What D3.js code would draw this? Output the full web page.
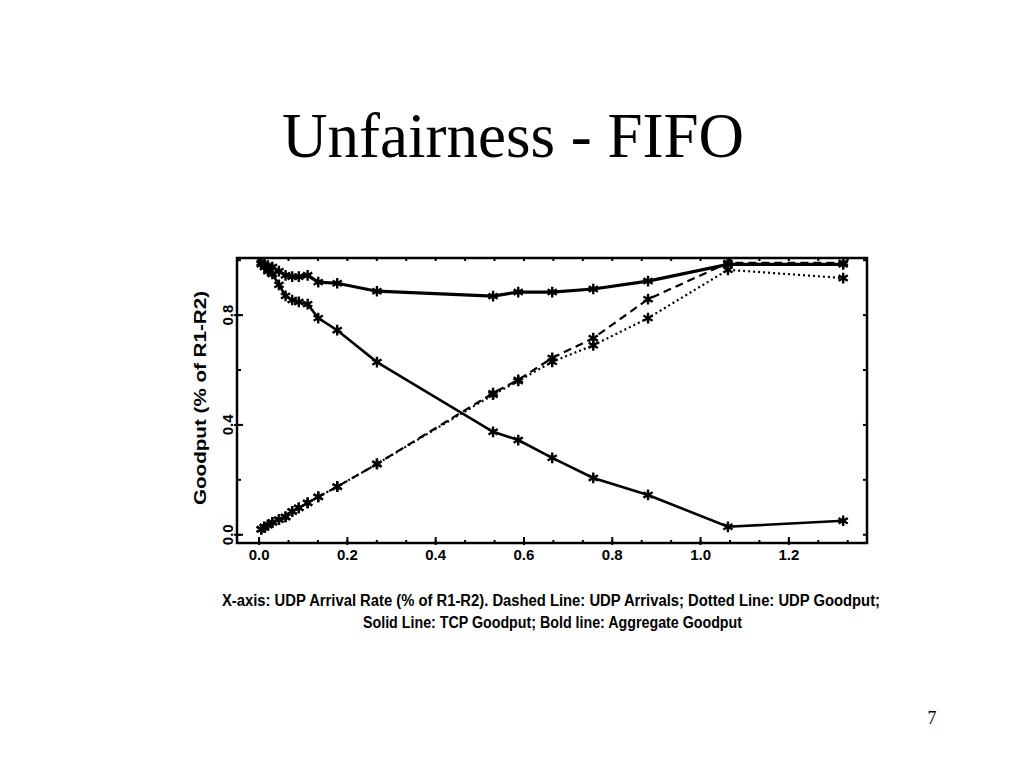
<!DOCTYPE html>
<html><head><meta charset="utf-8">
<script src="https://cdn.jsdelivr.net/npm/d3@7"></script>
<style>body{margin:0;background:#fff}svg{display:block}</style>
</head><body>
<svg id="c" width="1024" height="768"></svg>
<script>
const title = "Unfairness - FIFO";
const pageNum = "7";
const yLabel = "Goodput (% of R1-R2)";
const caption1 = "X-axis: UDP Arrival Rate (% of R1-R2).  Dashed Line: UDP Arrivals; Dotted Line: UDP Goodput;";
const caption2 = "Solid Line: TCP Goodput; Bold line: Aggregate Goodput";
const xTicks = [0.0, 0.2, 0.4, 0.6, 0.8, 1.0, 1.2];
const yTicks = [0.0, 0.4, 0.8];
const udpRate   = [0.005,0.012,0.02,0.03,0.045,0.06,0.075,0.09,0.11,0.134,0.177,0.267,0.53,0.587,0.664,0.757,0.881,1.062,1.323];
const tcpGood   = [0.985,0.975,0.96,0.95,0.91,0.87,0.855,0.848,0.84,0.789,0.745,0.629,0.375,0.345,0.28,0.207,0.145,0.029,0.051];
const udpArr    = [0.02,0.028,0.035,0.045,0.055,0.065,0.085,0.098,0.116,0.138,0.175,0.258,0.516,0.564,0.644,0.716,0.858,0.99,0.99];
const udpGood   = [0.02,0.028,0.035,0.045,0.055,0.065,0.085,0.098,0.116,0.138,0.175,0.258,0.51,0.56,0.63,0.69,0.789,0.965,0.935];
const aggGood   = [0.99,0.985,0.98,0.975,0.96,0.945,0.94,0.94,0.945,0.92,0.916,0.887,0.869,0.884,0.884,0.895,0.924,0.985,0.985];

const svg = d3.select("#c");
const x = d3.scaleLinear().domain([-0.05, 1.377]).range([237, 867]);
const y = d3.scaleLinear().domain([-0.03, 1.008]).range([543, 258]);
const sans = "'Liberation Sans',Arial,sans-serif";

svg.append("text").attr("x", 513).attr("y", 157).attr("text-anchor","middle")
  .style("font-family","'Liberation Serif','Times New Roman',serif").style("font-size","63px")
  .text(title);
svg.append("text").attr("x", 932).attr("y", 724).attr("text-anchor","middle")
  .style("font-family","'Liberation Serif',serif").style("font-size","18px").text(pageNum);

// frame
svg.append("rect").attr("x", x.range()[0]).attr("y", y.range()[1])
  .attr("width", x.range()[1]-x.range()[0]).attr("height", y.range()[0]-y.range()[1])
  .attr("fill","none").attr("stroke","#000").attr("stroke-width",2.5);

const g = svg.append("g");
const xMinor = d3.range(0, 1.38, 0.2/3);
xMinor.forEach(v => {
  g.append("line").attr("x1",x(v)).attr("x2",x(v)).attr("y1",y.range()[0]).attr("y2",y.range()[0]-3).attr("stroke","#000").attr("stroke-width",2);
  g.append("line").attr("x1",x(v)).attr("x2",x(v)).attr("y1",y.range()[1]).attr("y2",y.range()[1]+3).attr("stroke","#000").attr("stroke-width",2);
});
xTicks.forEach(v => {
  g.append("line").attr("x1",x(v)).attr("x2",x(v)).attr("y1",y.range()[0]+2).attr("y2",y.range()[0]-6).attr("stroke","#000").attr("stroke-width",2);
  g.append("text").attr("x",x(v)).attr("y",560).attr("text-anchor","middle")
    .style("font-family",sans).style("font-weight","bold").style("font-size","15px")
    .text(v.toFixed(1));
});
d3.range(0, 1.01, 0.2).forEach(v => {
  g.append("line").attr("x1",x.range()[0]).attr("x2",x.range()[0]+4).attr("y1",y(v)).attr("y2",y(v)).attr("stroke","#000").attr("stroke-width",2);
  g.append("line").attr("x1",x.range()[1]).attr("x2",x.range()[1]-4).attr("y1",y(v)).attr("y2",y(v)).attr("stroke","#000").attr("stroke-width",2);
});
yTicks.forEach(v => {
  g.append("line").attr("x1",x.range()[0]-3).attr("x2",x.range()[0]+6).attr("y1",y(v)).attr("y2",y(v)).attr("stroke","#000").attr("stroke-width",2);
  g.append("text").attr("transform",`translate(233,${y(v)}) rotate(-90)`).attr("text-anchor","middle")
    .style("font-family",sans).style("font-weight","bold").style("font-size","15px")
    .text(v.toFixed(1));
});
svg.append("text").attr("transform","translate(206,398) rotate(-90)").attr("text-anchor","middle")
  .attr("textLength",214).attr("lengthAdjust","spacingAndGlyphs")
  .style("font-family",sans).style("font-weight","bold").style("font-size","16px")
  .text(yLabel);

const series = [
  {vals: udpArr, dash: "8,5", w: 2.2},
  {vals: udpGood, dash: "2,3", w: 2.2},
  {vals: tcpGood, dash: null, w: 2.6},
  {vals: aggGood, dash: null, w: 3.2}
];
const line = d3.line().x(d => x(d[0])).y(d => y(d[1]));
const sym = d3.symbol().type(d3.symbolAsterisk).size(80);
series.forEach(s => {
  const pts = udpRate.map((r,i) => [r, s.vals[i]]);
  svg.append("path").datum(pts).attr("d", line).attr("fill","none").attr("stroke","#000")
    .attr("stroke-width", s.w).attr("stroke-dasharray", s.dash);
  svg.append("g").selectAll("path").data(pts).join("path")
    .attr("transform", d => `translate(${x(d[0])},${y(d[1])})`).attr("d", sym)
    .attr("fill","none").attr("stroke","#000").attr("stroke-width",2.4);
});

const cap = svg.append("g").style("font-family",sans).style("font-weight","bold").style("font-size","16px");
cap.append("text").attr("x",222).attr("y",606).attr("textLength",658).attr("lengthAdjust","spacingAndGlyphs").text(caption1);
cap.append("text").attr("x",363).attr("y",628).attr("textLength",379).attr("lengthAdjust","spacingAndGlyphs").text(caption2);
</script>
</body></html>
